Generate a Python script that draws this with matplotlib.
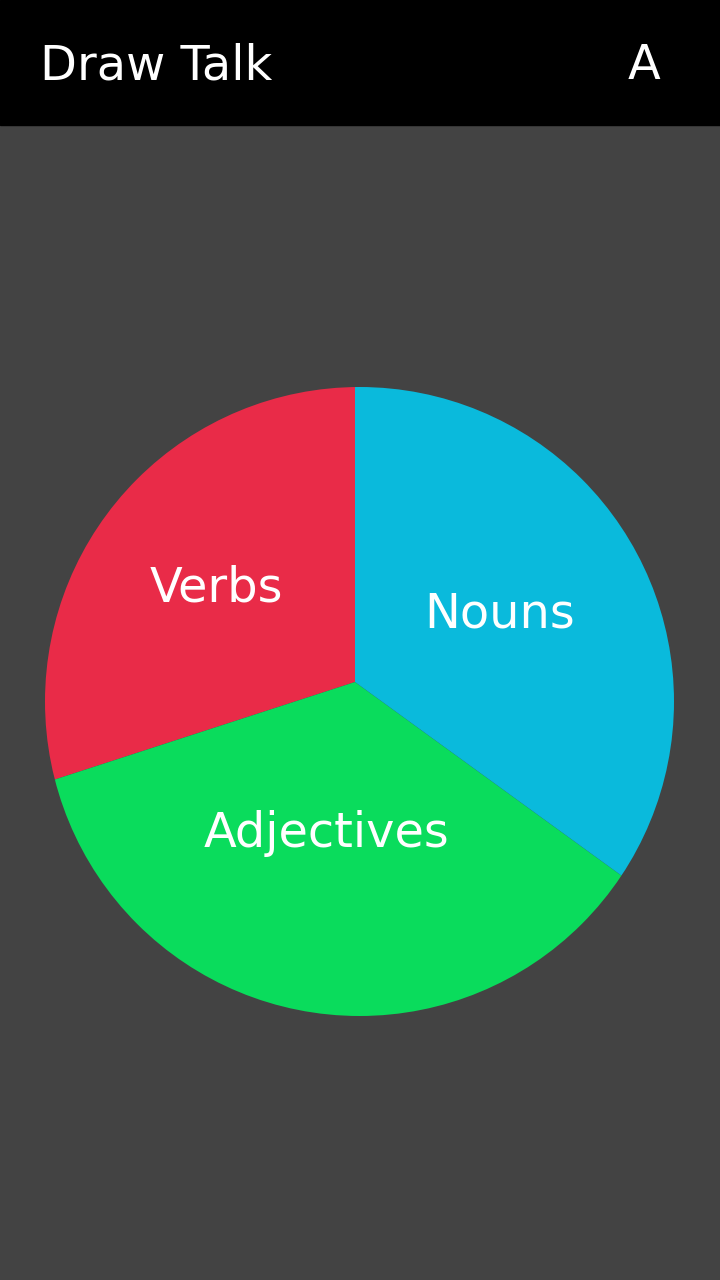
import matplotlib
matplotlib.use("Agg")
import matplotlib.pyplot as plt
from matplotlib.patches import Circle, Rectangle

# data
LABELS = ["Verbs", "Adjectives", "Nouns"]
VALUES = [30, 35, 35]
COLORS = ["#E92B48", "#0ADC5C", "#0ABADC"]

TITLE = "Draw Talk"
BADGE = "A"

W, H = 720, 1280

# label anchor points (centre x, baseline y) in image pixels
LABEL_POS = [(216, 602), (326, 847), (500, 628)]

fig = plt.figure(figsize=(7.2, 12.8), dpi=100, facecolor="#434343")
ax = fig.add_axes([0, 0, 1, 1])
ax.axis("off")

# pie (vertex slightly off the circle centre, clipped to the circle)
wedges, texts = ax.pie(
    VALUES,
    labels=LABELS,
    colors=COLORS,
    startangle=90,
    counterclock=True,
    center=(355, H - 682),
    radius=400,
    labeldistance=0.4,
    textprops=dict(color="white", fontsize=34.5),
    wedgeprops=dict(linewidth=0),
)
for t, (px, py) in zip(texts, LABEL_POS):
    t.set_position((px, H - py))
    t.set_horizontalalignment("center")
    t.set_verticalalignment("baseline")

ax.set_xlim(0, W)
ax.set_ylim(0, H)
ax.set_aspect("equal")

clip = Circle((359.5, H - 701.5), 314.5, facecolor="none", edgecolor="none")
ax.add_patch(clip)
for w in wedges:
    w.set_clip_on(True)
    w.set_clip_path(clip)

# header bar
ax.add_patch(Rectangle((0, H - 125), W, 125, color="black", zorder=1))
ax.text(40, H - 79, TITLE, color="white", fontsize=34.5, ha="left", va="baseline",
        family="DejaVu Sans", zorder=2)
ax.text(644, H - 79, BADGE, color="white", fontsize=34.5, ha="center", va="baseline",
        family="DejaVu Sans", zorder=2)

fig.savefig("out.png", dpi=100, facecolor=fig.get_facecolor())
